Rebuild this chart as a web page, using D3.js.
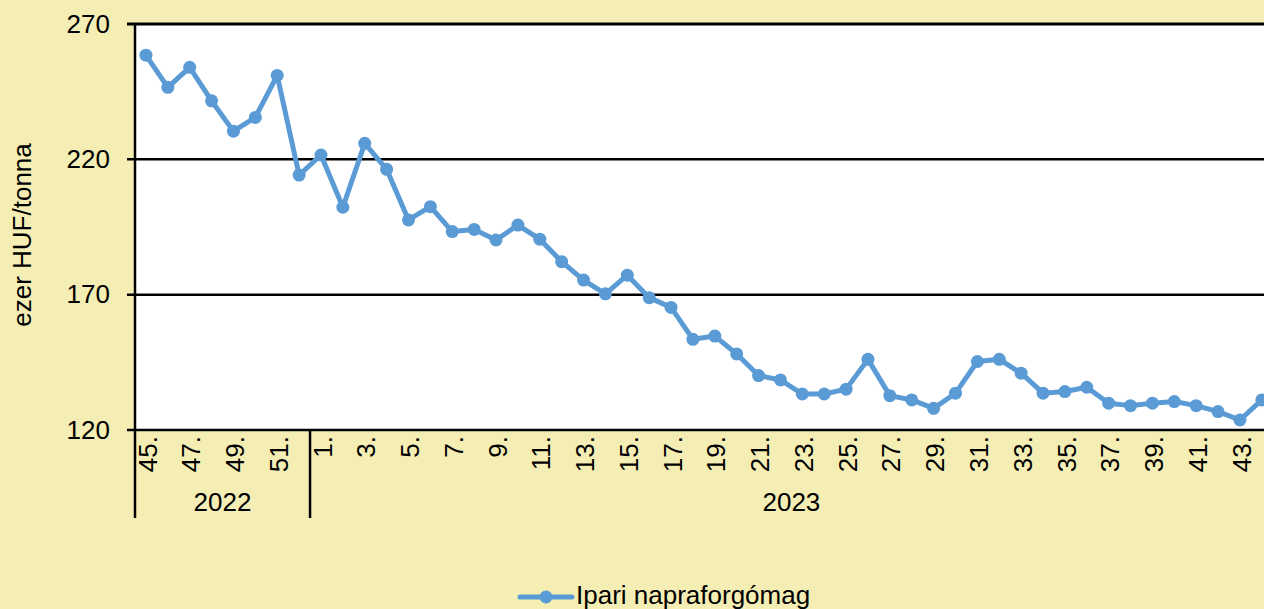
<!DOCTYPE html>
<html>
<head>
<meta charset="utf-8">
<script src="https://cdn.jsdelivr.net/npm/d3@7"></script>
<style>
  html, body { margin: 0; padding: 0; background: #f4eeb4; }
  svg { display: block; font-family: "Liberation Sans", Arial, sans-serif; }
</style>
</head>
<body>
<div id="chart"></div>
<script>
const years = ['2022', '2023'];
const weeks2022 = [45, 46, 47, 48, 49, 50, 51, 52];
const weeks2023 = d3.range(1, 45);
const prices2022 = [258.5, 246.6, 254, 241.6, 230.4, 235.5, 251, 214.2];
const prices2023 = [221.6, 202.3, 225.9, 216.3, 197.6, 202.5, 193.3, 194.1, 190.2, 195.7,
  190.5, 182.2, 175.4, 170.3, 177.2, 168.9, 165.3, 153.5, 154.7, 148.1,
  140.1, 138.5, 133.3, 133.3, 135.1, 146.1, 132.7, 131.1, 128, 133.6,
  145.3, 146.1, 141, 133.6, 134.2, 135.8, 129.9, 129, 129.9, 130.5,
  129, 126.8, 123.7, 131.1];
const yTicks = [120, 170, 220, 270];
const seriesName = 'Ipari napraforgómag';

const dataset = [
  ...weeks2022.map((w, i) => ({ key: '2022-' + w, week: w, year: '2022', value: prices2022[i] })),
  ...weeks2023.map((w, i) => ({ key: '2023-' + w, week: w, year: '2023', value: prices2023[i] }))
];

const width = 1264;
const height = 609;
const plotLeft = 135;
const plotTop = 24;
const plotBottom = 430;
const groupBottom = 518;
const step = 21.88;
const color = '#5b9bd5';
const fontSize = 26;

const svg = d3.select('#chart')
  .append('svg')
  .attr('width', width)
  .attr('height', height);

const xScale = d3.scalePoint()
  .domain(dataset.map(d => d.key))
  .range([plotLeft + step / 2, plotLeft + step * (dataset.length - 0.5)]);

const yScale = d3.scaleLinear()
  .domain([120, 270])
  .range([plotBottom, plotTop]);

// plot area
svg.append('rect')
  .attr('x', plotLeft)
  .attr('y', plotTop)
  .attr('width', width - plotLeft)
  .attr('height', plotBottom - plotTop)
  .attr('fill', '#fff');

// grid lines
svg.append('g')
  .selectAll('line')
  .data(yTicks)
  .enter()
  .append('line')
  .attr('x1', plotLeft - 8)
  .attr('x2', width)
  .attr('y1', d => yScale(d))
  .attr('y2', d => yScale(d))
  .attr('stroke', '#000')
  .attr('stroke-width', d => d === 270 ? 3 : 2.5);

const yAxis = d3.axisLeft(yScale)
  .tickValues(yTicks)
  .tickSize(0)
  .tickPadding(25);

svg.append('g')
  .attr('id', 'y-axis')
  .attr('transform', `translate(${plotLeft}, 0)`)
  .call(yAxis)
  .call(g => g.select('.domain').remove())
  .call(g => g.selectAll('text')
    .attr('font-size', fontSize)
    .attr('fill', '#000')
    .attr('font-family', '"Liberation Sans", Arial, sans-serif'));

svg.append('text')
  .attr('transform', 'translate(31, 235) rotate(-90)')
  .attr('text-anchor', 'middle')
  .attr('font-size', fontSize)
  .text('ezer HUF/tonna');

// x axis labels (every other week)
const xAxis = d3.axisBottom(xScale)
  .tickValues(dataset.filter(d => d.week % 2 === 1).map(d => d.key))
  .tickFormat(k => k.split('-')[1] + '.')
  .tickSize(0);

svg.append('g')
  .attr('id', 'x-axis')
  .attr('transform', `translate(0, ${plotBottom})`)
  .call(xAxis)
  .call(g => g.select('.domain').remove())
  .call(g => g.selectAll('text')
    .attr('font-size', fontSize)
    .attr('fill', '#000')
    .attr('font-family', '"Liberation Sans", Arial, sans-serif')
    .attr('transform', 'rotate(-90)')
    .attr('text-anchor', 'end')
    .attr('x', -6)
    .attr('y', 1)
    .attr('dy', '0.35em'));

// y axis line and year separators
svg.append('line')
  .attr('x1', plotLeft).attr('x2', plotLeft)
  .attr('y1', plotTop - 1).attr('y2', groupBottom)
  .attr('stroke', '#000')
  .attr('stroke-width', 2.5);

const yearStarts = years.map(y => dataset.findIndex(d => d.year === y));
const yearEnds = years.map(y => dataset.length - 1 - [...dataset].reverse().findIndex(d => d.year === y));

svg.append('g')
  .selectAll('line')
  .data(yearStarts.slice(1))
  .enter()
  .append('line')
  .attr('x1', i => xScale(dataset[i].key) - step / 2)
  .attr('x2', i => xScale(dataset[i].key) - step / 2)
  .attr('y1', plotBottom)
  .attr('y2', groupBottom)
  .attr('stroke', '#000')
  .attr('stroke-width', 2.5);

svg.append('g')
  .selectAll('text')
  .data(years)
  .enter()
  .append('text')
  .attr('x', (y, i) => (xScale(dataset[yearStarts[i]].key) + xScale(dataset[yearEnds[i]].key)) / 2)
  .attr('y', 511)
  .attr('text-anchor', 'middle')
  .attr('font-size', fontSize)
  .text(d => d);

// series
const line = d3.line()
  .x(d => xScale(d.key))
  .y(d => yScale(d.value));

svg.append('path')
  .datum(dataset)
  .attr('d', line)
  .attr('fill', 'none')
  .attr('stroke', color)
  .attr('stroke-width', 5)
  .attr('stroke-linejoin', 'round');

svg.append('g')
  .selectAll('circle')
  .data(dataset)
  .enter()
  .append('circle')
  .attr('cx', d => xScale(d.key))
  .attr('cy', d => yScale(d.value))
  .attr('r', 6.5)
  .attr('fill', color);

// legend
const legend = svg.append('g').attr('transform', 'translate(518, 597)');
legend.append('line')
  .attr('x1', 2).attr('x2', 54)
  .attr('stroke', color)
  .attr('stroke-width', 5)
  .attr('stroke-linecap', 'round');
legend.append('circle')
  .attr('cx', 28)
  .attr('r', 6.5)
  .attr('fill', color);
legend.append('text')
  .attr('x', 58)
  .attr('y', 7)
  .attr('font-size', fontSize)
  .text(seriesName);
</script>
</body>
</html>
